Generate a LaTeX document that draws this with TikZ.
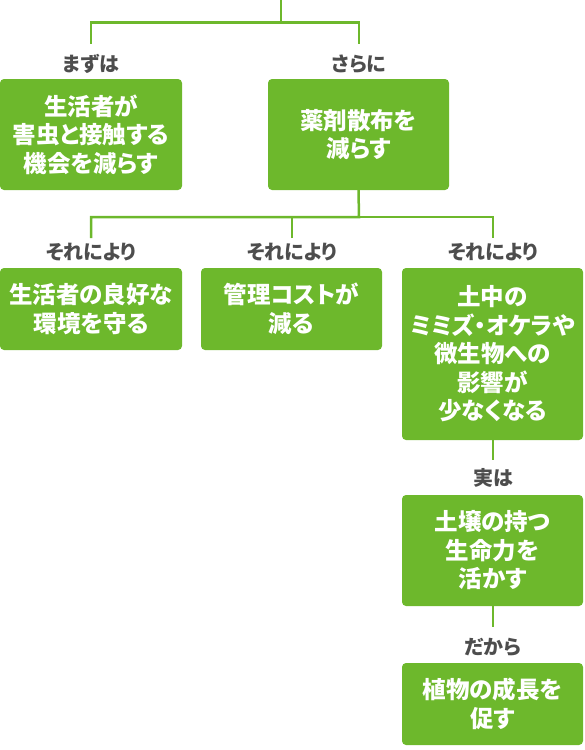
\documentclass[tikz,border=0pt]{standalone}
\usepackage{fontspec}
\newfontfamily\jp[RawFeature=+palt]{Noto Sans CJK JP}
\definecolor{leaf}{HTML}{6DB82C}
\definecolor{ink}{HTML}{4D4D4D}
\tikzset{
  box/.style={fill=leaf, rounded corners=4pt, inner sep=0pt, align=center,
    text=white, font=\jp\bfseries\fontsize{23.5}{28.5}\selectfont},
  tag/.style={inner sep=0pt, text=ink, font=\jp\bfseries\fontsize{20}{22}\selectfont},
  conn/.style={draw=leaf, line width=2.5pt}
}
\begin{document}
\begin{tikzpicture}[x=1pt,y=-1pt]
\useasboundingbox (0,0) rectangle (584,750);
% boxes
\node[box, minimum width=182pt, minimum height=111pt] (A) at (91,134.5) {生活者が\\害虫と接触する\\機会を減らす};
\node[box, minimum width=181pt, minimum height=111pt] (B) at (358.5,134.5) {薬剤散布を\\減らす};
\node[box, minimum width=182pt, minimum height=82pt] (C) at (91,309) {生活者の良好な\\環境を守る};
\node[box, minimum width=181pt, minimum height=82pt] (D) at (291.5,309) {管理コストが\\減る};
\node[box, minimum width=181pt, minimum height=172pt] (E) at (492.5,354) {土中の\\ミミズ・オケラや\\微生物への\\影響が\\少なくなる};
\node[box, minimum width=181pt, minimum height=111pt] (F) at (492.5,550.5) {土壌の持つ\\生命力を\\活かす};
\node[box, minimum width=181pt, minimum height=82pt] (G) at (492.5,704) {植物の成長を\\促す};
% labels
\node[tag] (L1) at (91,64) {まずは};
\node[tag] (L2) at (359,64) {さらに};
\node[tag] (L3) at (91,252) {それにより};
\node[tag] (L4) at (292,252) {それにより};
\node[tag] (L5) at (493,252) {それにより};
\node[tag] (L6) at (493,478) {実は};
\node[tag] (L7) at (493,647) {だから};
% connector ends
\coordinate (top) at (281,0);
\coordinate (e1) at (91,44);
\coordinate (e2) at (359,44);
\coordinate (e3) at (91,238);
\coordinate (e4) at (292,238);
\coordinate (e5) at (493,238);
\coordinate (e6) at (493,460);
\coordinate (e7) at (493,627);
% connectors
\draw[conn] (top) -- (281,22.5) -| (e1);
\draw[conn] (281,22.5) -| (e2);
\draw[conn] (B.south) -- (359,217) -| (e3);
\draw[conn] (359,217) -| (e5);
\draw[conn] (e4) -- (292,217);
\draw[conn] (E.south -| e6) -- (e6);
\draw[conn] (F.south -| e7) -- (e7);
\end{tikzpicture}
\end{document}
